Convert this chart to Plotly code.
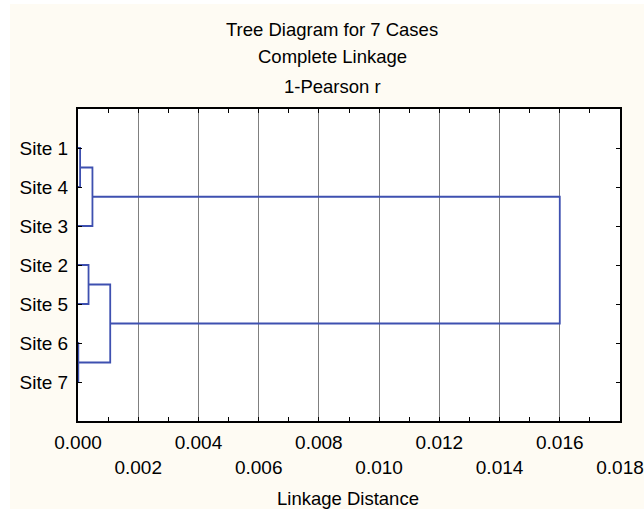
import plotly.graph_objects as go

# ---- data ----
leaf_labels = ["Site 1", "Site 4", "Site 3", "Site 2", "Site 5", "Site 6", "Site 7"]
# merges: (node a, node b, linkage distance); nodes 0..6 are leaves in display order, 7+ are clusters
merge_a = [0, 7, 3, 5, 9, 8]
merge_b = [1, 2, 4, 6, 10, 11]
merge_dist = [0.00007, 0.00048, 0.00035, 0.00001, 0.00107, 0.01600]

x_tickvals = [0.000, 0.002, 0.004, 0.006, 0.008, 0.010, 0.012, 0.014, 0.016, 0.018]
x_ticktext = ["0.000", "<br>0.002", "0.004", "<br>0.006", "0.008", "<br>0.010",
              "0.012", "<br>0.014", "0.016", "<br>0.018"]
title_lines = ["Tree Diagram for 7 Cases", "Complete Linkage", "1-Pearson r"]

# ---- build dendrogram segments ----
pos = {i: float(i + 1) for i in range(len(leaf_labels))}
hgt = {i: 0.0 for i in range(len(leaf_labels))}
xs, ys = [], []
for k, (a, b, d) in enumerate(zip(merge_a, merge_b, merge_dist)):
    node = len(leaf_labels) + k
    xs += [hgt[a], d, d, hgt[b], None]
    ys += [pos[a], pos[a], pos[b], pos[b], None]
    pos[node] = (pos[a] + pos[b]) / 2
    hgt[node] = d

BLUE = "#3E50B0"
CREAM = "#FEFBF3"
FONT = "Liberation Sans, Arial, sans-serif"

fig = go.Figure()
fig.add_trace(go.Scatter(x=xs, y=ys, mode="lines",
                         line=dict(color=BLUE, width=1.8),
                         hoverinfo="skip", showlegend=False))

W, H = 644, 509
L, T = 78, 109
R = W - 620
B = H - 421
pw, ph = W - L - R, H - T - B

def py(p):  # screen y -> paper
    return (H - B - p) / ph

def px(p):  # screen x -> paper
    return (p - L) / pw

annotations = []
for line, yp in zip(title_lines, [29, 57, 86]):
    annotations.append(dict(text=line, xref="paper", yref="paper",
                            x=px(332), y=py(yp), xanchor="center", yanchor="middle",
                            showarrow=False, font=dict(size=18.5, color="#000000", family=FONT)))
annotations.append(dict(text="Linkage Distance", xref="paper", yref="paper",
                        x=px(348), y=py(498), xanchor="center", yanchor="middle",
                        showarrow=False, font=dict(size=18.5, color="#000000", family=FONT)))

shapes = [
    dict(type="rect", xref="paper", yref="paper", x0=px(-10), x1=px(10), y0=py(520), y1=py(-10),
         fillcolor="white", line=dict(width=0), layer="above"),
    dict(type="rect", xref="paper", yref="paper", x0=px(-10), x1=px(660), y0=py(4), y1=py(-10),
         fillcolor="white", line=dict(width=0), layer="above"),
]

fig.update_layout(
    width=W, height=H,
    margin=dict(l=L, r=R, t=T, b=B, pad=0, autoexpand=False),
    paper_bgcolor=CREAM, plot_bgcolor="white",
    font=dict(family=FONT, size=19, color="#000000"),
    annotations=annotations, shapes=shapes,
    showlegend=False,
)
fig.update_xaxes(
    range=[0, 0.018], tickvals=x_tickvals, ticktext=x_ticktext,
    showgrid=True, gridcolor="#808080", gridwidth=1,
    ticks="inside", ticklen=4, tickcolor="#000000", tickwidth=1,
    minor=dict(dtick=0.001, ticks="inside", ticklen=4, tickcolor="#000000", showgrid=False),
    showline=True, linecolor="#000000", linewidth=2, mirror="ticks",
    zeroline=False, ticklabelstandoff=3, automargin=False,
    tickfont=dict(size=19, family=FONT),
)
fig.update_yaxes(
    range=[8, 0], tickvals=[1, 2, 3, 4, 5, 6, 7], ticktext=leaf_labels,
    showgrid=False, ticks="inside", ticklen=4, tickcolor="#000000", tickwidth=1,
    showline=True, linecolor="#000000", linewidth=2, mirror="ticks",
    zeroline=False, ticklabelstandoff=4, automargin=False,
    tickfont=dict(size=19, family=FONT),
)

fig.write_html(
    "out.html",
    config={"displayModeBar": False},
    post_script="document.body.style.margin='0';document.body.style.overflow='hidden';",
)
